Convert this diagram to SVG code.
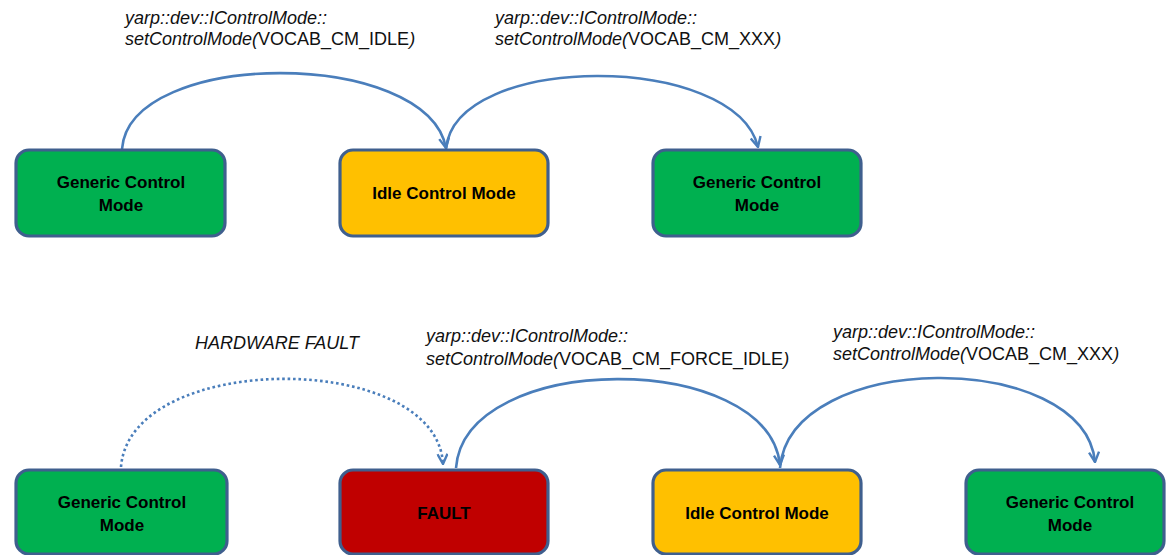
<svg xmlns="http://www.w3.org/2000/svg" width="1167" height="555" viewBox="0 0 1167 555">
<style>
.box{stroke:#3F5F8E;stroke-width:3.2}
.green{fill:#00B050}
.yellow{fill:#FFC000}
.red{fill:#C00000}
.nt{font-family:"Liberation Sans",Arial,sans-serif;font-weight:bold;font-size:17px;fill:#000;text-anchor:middle}
.lb{font-family:"Liberation Sans",Arial,sans-serif;font-size:18px;fill:#111;font-style:italic}
.up{font-style:normal}
.conn{fill:none;stroke:#4A7EBB;stroke-width:2.6}
.dot{stroke-dasharray:2.6 2.8}
</style>
<defs>
<marker id="arr" viewBox="0 0 12 12" refX="11" refY="6" markerWidth="12" markerHeight="12" markerUnits="userSpaceOnUse" orient="auto">
<polyline points="1,1 11,6 1,11" fill="none" stroke="#4A7EBB" stroke-width="2.4"/>
</marker>
</defs>
<g id="connectors">
<path class="conn" d="M122,149 C130,48 427,48 446,148" marker-end="url(#arr)"/>
<path class="conn" d="M446,149 C455,52 735,52 758,147" marker-end="url(#arr)"/>
<path class="conn dot" d="M121,467 C130,350 437,350 443,464" marker-end="url(#arr)"/>
<path class="conn" d="M456,468 C465,350 768,350 780,465" marker-end="url(#arr)"/>
<path class="conn" d="M780,468 C790,349 1084,349 1095,462" marker-end="url(#arr)"/>
</g>
<g id="labels">
<text class="lb" x="125" y="24">yarp::dev::IControlMode::</text>
<text class="lb" x="125" y="45">setControlMode(<tspan class="up">VOCAB_CM_IDLE</tspan>)</text>
<text class="lb" x="495" y="24">yarp::dev::IControlMode::</text>
<text class="lb" x="495" y="45">setControlMode(<tspan class="up">VOCAB_CM_XXX</tspan>)</text>
<text class="lb" x="195" y="349">HARDWARE FAULT</text>
<text class="lb" x="426" y="342">yarp::dev::IControlMode::</text>
<text class="lb" x="426" y="365">setControlMode(<tspan class="up">VOCAB_CM_FORCE_IDLE</tspan>)</text>
<text class="lb" x="833" y="338">yarp::dev::IControlMode::</text>
<text class="lb" x="833" y="360">setControlMode(<tspan class="up">VOCAB_CM_XXX</tspan>)</text>
</g>
<g id="top-generic-1">
<rect class="box green" x="16" y="150" width="209" height="86" rx="13"/>
<text class="nt" x="121" y="188">Generic Control</text>
<text class="nt" x="121" y="211">Mode</text>
</g>
<g id="top-idle">
<rect class="box yellow" x="340" y="150" width="208" height="86" rx="13"/>
<text class="nt" x="444" y="199">Idle Control Mode</text>
</g>
<g id="top-generic-2">
<rect class="box green" x="653" y="150" width="208" height="86" rx="13"/>
<text class="nt" x="757" y="188">Generic Control</text>
<text class="nt" x="757" y="211">Mode</text>
</g>
<g id="bottom-generic-1">
<rect class="box green" x="16" y="470" width="211" height="84" rx="13"/>
<text class="nt" x="122" y="508">Generic Control</text>
<text class="nt" x="122" y="531">Mode</text>
</g>
<g id="bottom-fault">
<rect class="box red" x="340" y="470" width="208" height="84" rx="13"/>
<text class="nt" x="444" y="519">FAULT</text>
</g>
<g id="bottom-idle">
<rect class="box yellow" x="653" y="470" width="208" height="84" rx="13"/>
<text class="nt" x="757" y="519">Idle Control Mode</text>
</g>
<g id="bottom-generic-2">
<rect class="box green" x="966" y="470" width="198" height="84" rx="13"/>
<text class="nt" x="1070" y="508">Generic Control</text>
<text class="nt" x="1070" y="531">Mode</text>
</g>
</svg>
